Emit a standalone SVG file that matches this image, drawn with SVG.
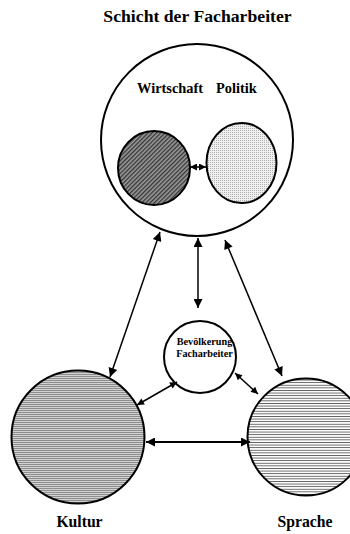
<svg xmlns="http://www.w3.org/2000/svg" width="350" height="534" viewBox="0 0 350 534">
  <style>
    .lbl { font-family: "Liberation Serif", "Times New Roman", serif; font-weight: bold; fill: #000; text-anchor: middle; }
    .start { text-anchor: start; }
    .ring { stroke: #000; stroke-width: 2; }
    .link { stroke: #000; stroke-width: 1.5; fill: none; }
    .thick { stroke-width: 2.2; }
  </style>
  <defs>
    <!-- horizontal line fill on grey -->
    <pattern id="hLinesGrey" width="4" height="2" patternUnits="userSpaceOnUse">
      <rect width="4" height="2" fill="#d2d2d2"/>
      <rect width="4" height="0.8" fill="#7c7c7c"/>
    </pattern>
    <!-- horizontal line fill on white -->
    <pattern id="hLinesWhite" width="4" height="2.6" patternUnits="userSpaceOnUse">
      <rect width="4" height="2.6" fill="#ffffff"/>
      <rect width="4" height="0.9" fill="#5a5a5a"/>
    </pattern>
    <!-- dense diagonal hatch -->
    <pattern id="diagHatch" width="3" height="3" patternUnits="userSpaceOnUse" patternTransform="rotate(-45)">
      <rect width="3" height="3" fill="#9a9a9a"/>
      <rect width="3" height="1.3" fill="#333"/>
    </pattern>
    <!-- fine dot fill -->
    <pattern id="dots" width="2" height="2" patternUnits="userSpaceOnUse">
      <rect width="2" height="2" fill="#f0f0f0"/>
      <rect width="1" height="1" fill="#b0b0b0"/>
    </pattern>
    <marker id="headL" viewBox="0 0 10 10" refX="10" refY="5" markerWidth="12" markerHeight="9" markerUnits="userSpaceOnUse" orient="auto-start-reverse">
      <path d="M0,0 L10,5 L0,10 Z" fill="#000"/>
    </marker>
    <marker id="headS" viewBox="0 0 10 10" refX="10" refY="5" markerWidth="9" markerHeight="7" markerUnits="userSpaceOnUse" orient="auto-start-reverse">
      <path d="M0,0 L10,5 L0,10 Z" fill="#000"/>
    </marker>
  </defs>

  <text class="lbl" x="197.5" y="22" font-size="17.7">Schicht der Facharbeiter</text>

  <g id="schicht">
    <circle class="ring" cx="197" cy="140" r="96" fill="#fff"/>
    <text class="lbl start" x="137" y="93" font-size="14.4">Wirtschaft</text>
    <text class="lbl start" x="216" y="93" font-size="14.4">Politik</text>
  </g>

  <g id="wirtschaft">
    <ellipse class="ring" cx="154" cy="168" rx="36" ry="37" fill="url(#diagHatch)"/>
  </g>

  <g id="politik">
    <ellipse class="ring" cx="241.5" cy="163" rx="35" ry="40" fill="url(#dots)"/>
  </g>

  <g id="bevoelkerung">
    <circle class="ring" cx="200" cy="357" r="36" fill="#fff"/>
    <text class="lbl" x="204.5" y="345" font-size="10.2">Bevölkerung</text>
    <text class="lbl" x="204.5" y="357" font-size="10.2">Facharbeiter</text>
  </g>

  <g id="kultur">
    <circle class="ring" cx="78" cy="437" r="66.5" fill="url(#hLinesGrey)"/>
    <text class="lbl" x="79.5" y="527" font-size="15.7">Kultur</text>
  </g>

  <g id="sprache">
    <circle class="ring" cx="306" cy="437" r="58.5" fill="url(#hLinesWhite)"/>
    <text class="lbl" x="305" y="527" font-size="15.7">Sprache</text>
  </g>

  <g id="connectors">
    <line class="link" x1="190" y1="167" x2="206" y2="167" marker-start="url(#headS)" marker-end="url(#headS)"/>
    <line class="link" x1="198" y1="238" x2="198" y2="308" marker-start="url(#headL)" marker-end="url(#headL)"/>
    <line class="link" x1="160" y1="232" x2="110" y2="377" marker-start="url(#headL)" marker-end="url(#headL)"/>
    <line class="link" x1="225" y1="240" x2="282" y2="376" marker-start="url(#headL)" marker-end="url(#headL)"/>
    <line class="link" x1="177" y1="382" x2="137" y2="405" marker-start="url(#headS)" marker-end="url(#headS)"/>
    <line class="link" x1="235" y1="373" x2="258" y2="394" marker-start="url(#headS)" marker-end="url(#headS)"/>
    <line class="link thick" x1="146" y1="442" x2="250" y2="442" marker-start="url(#headL)" marker-end="url(#headL)"/>
  </g>
</svg>
